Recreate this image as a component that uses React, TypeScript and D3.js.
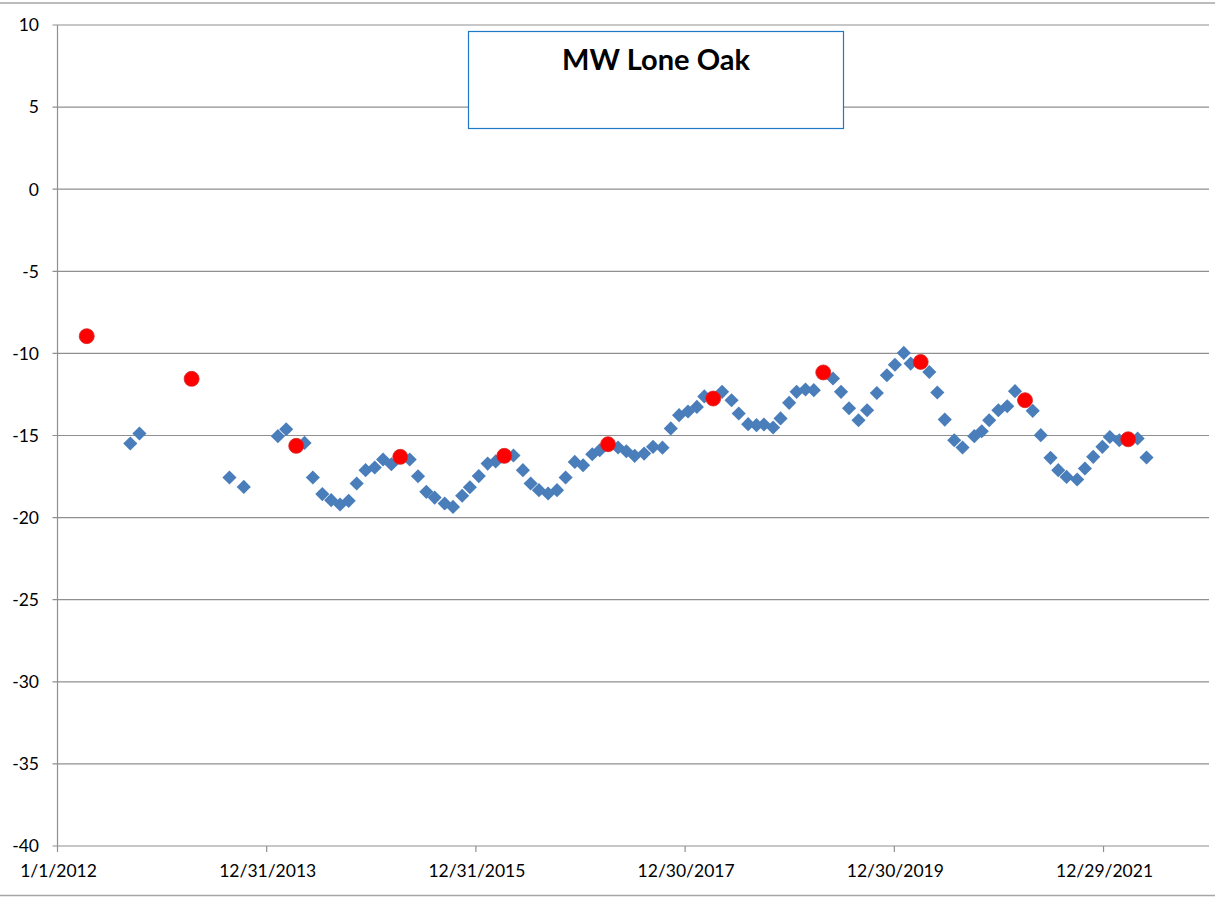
import React from 'react';
import * as d3 from 'd3';

// monthly readings (blue diamonds)
const blueDates = [
  '2012-09-11', '2012-10-13', '2013-08-23', '2013-10-12', '2014-02-08', '2014-03-09',
  '2014-05-12', '2014-06-10', '2014-07-13', '2014-08-13', '2014-09-13', '2014-10-13',
  '2014-11-10', '2014-12-11', '2015-01-12', '2015-02-10', '2015-03-11', '2015-05-14',
  '2015-06-12', '2015-07-11', '2015-08-09', '2015-09-13', '2015-10-12', '2015-11-13',
  '2015-12-10', '2016-01-10', '2016-02-10', '2016-03-09', '2016-05-10', '2016-06-12',
  '2016-07-09', '2016-08-07', '2016-09-08', '2016-10-09', '2016-11-08', '2016-12-10',
  '2017-01-08', '2017-02-09', '2017-03-07', '2017-05-10', '2017-06-08', '2017-07-07',
  '2017-08-09', '2017-09-09', '2017-10-12', '2017-11-10', '2017-12-09', '2018-01-09',
  '2018-02-09', '2018-03-07', '2018-05-08', '2018-06-10', '2018-07-05', '2018-08-07',
  '2018-09-05', '2018-10-01', '2018-11-02', '2018-11-28', '2018-12-28', '2019-01-23',
  '2019-02-23', '2019-03-24', '2019-05-30', '2019-06-27', '2019-07-25', '2019-08-27',
  '2019-09-26', '2019-10-30', '2019-12-04', '2020-01-01', '2020-02-01', '2020-02-25',
  '2020-04-30', '2020-05-28', '2020-06-23', '2020-07-26', '2020-08-24', '2020-10-04',
  '2020-10-30', '2020-11-25', '2020-12-27', '2021-01-27', '2021-02-23', '2021-04-26',
  '2021-05-24', '2021-06-27', '2021-07-24', '2021-08-22', '2021-09-28', '2021-10-25',
  '2021-11-23', '2021-12-25', '2022-01-20', '2022-02-22', '2022-04-27', '2022-05-28',
];
const blueValues = [
  -15.49, -14.88, -17.56, -18.13, -15.04, -14.62,
  -15.45, -17.56, -18.57, -18.94, -19.2, -18.98,
  -17.92, -17.11, -16.95, -16.46, -16.75, -16.46,
  -17.48, -18.43, -18.78, -19.14, -19.35, -18.67,
  -18.15, -17.47, -16.71, -16.58, -16.22, -17.11,
  -17.92, -18.33, -18.53, -18.33, -17.56, -16.61,
  -16.81, -16.14, -15.9, -15.73, -15.96, -16.24,
  -16.1, -15.69, -15.74, -14.57, -13.76, -13.54,
  -13.26, -12.62, -12.34, -12.85, -13.66, -14.31,
  -14.37, -14.33, -14.51, -13.96, -13.01, -12.34,
  -12.2, -12.24, -11.53, -12.34, -13.34, -14.07,
  -13.46, -12.41, -11.33, -10.69, -9.97, -10.62,
  -11.13, -12.38, -14.03, -15.29, -15.73, -15.04,
  -14.74, -14.07, -13.46, -13.22, -12.3, -13.5,
  -14.98, -16.36, -17.11, -17.52, -17.68, -17.01,
  -16.3, -15.69, -15.09, -15.29, -15.18, -16.34,
];

// annual readings (red circles)
const redDates = [
  '2012-04-12', '2013-04-13', '2014-04-13', '2015-04-11', '2016-04-08', '2017-04-05',
  '2018-04-07', '2019-04-26', '2020-03-31', '2021-03-30', '2022-03-25',
];
const redValues = [-8.95, -11.55, -15.63, -16.3, -16.24, -15.53, -12.75, -11.16, -10.52, -12.85, -15.23];

const yTicks = [10, 5, 0, -5, -10, -15, -20, -25, -30, -35, -40];
const xTickDates = ['2012-01-01', '2013-12-31', '2015-12-31', '2017-12-30', '2019-12-30', '2021-12-29'];
const xDomain = ['2012-01-01', '2023-01-01'];
const title = 'MW Lone Oak';

const W = 1215;
const H = 898;
const FONT = "Lato, 'Liberation Sans', Arial, sans-serif";

const parse = d3.timeParse('%Y-%m-%d');
const fmt = d3.timeFormat('%-m/%-d/%Y');

export default function App() {
  const x = d3.scaleTime()
    .domain(xDomain.map((d) => parse(d) as Date))
    .range([57.5, 1209]);
  const y = d3.scaleLinear().domain([-40, 10]).range([846, 25]);

  const diamond = d3.symbol(d3.symbolSquare, 100)() as string;
  const blue = blueDates.map((d, i) => ({ date: parse(d) as Date, value: blueValues[i] }));
  const red = redDates.map((d, i) => ({ date: parse(d) as Date, value: redValues[i] }));

  const [x0, x1] = x.range();
  const [yb, yt] = y.range();

  return (
    <svg width={W} height={H} style={{ position: 'absolute', left: 0, top: 0, display: 'block' }}
      fontFamily={FONT}>
      <rect x={0} y={0} width={W} height={H} fill="#fff" />
      {/* chart frame */}
      <line x1={0} x2={W} y1={3} y2={3} stroke="#a6a6a6" strokeWidth={1.5} />
      <line x1={0} x2={W} y1={895.5} y2={895.5} stroke="#a6a6a6" strokeWidth={1.5} />

      {/* gridlines and y axis */}
      {yTicks.map((t) => (
        <g key={t}>
          <line x1={x0 - 5} x2={x1} y1={y(t)} y2={y(t)} stroke="#8f8f8f" strokeWidth={1.2} />
          <text x={39} y={y(t)} dy="0.36em" textAnchor="end" fontSize={17.5} fill="#000">{t}</text>
        </g>
      ))}
      <line x1={x0} x2={x0} y1={yt} y2={yb} stroke="#8f8f8f" strokeWidth={1.2} />

      {/* x axis */}
      {xTickDates.map((d) => {
        const dt = parse(d) as Date;
        return (
          <g key={d}>
            <line x1={x(dt)} x2={x(dt)} y1={yb} y2={yb + 6} stroke="#8f8f8f" strokeWidth={1.2} />
            <text x={x(dt) + 1} y={877} textAnchor="middle" fontSize={17.5} fill="#000">{fmt(dt)}</text>
          </g>
        );
      })}

      {/* title box */}
      <rect x={468.5} y={31.5} width={375} height={97} fill="#fff" stroke="#1f78c8" strokeWidth={1.2} />
      <text x={656} y={69.5} textAnchor="middle" fontSize={29} fontWeight="bold" fill="#000">{title}</text>

      {/* series */}
      {blue.map((d, i) => (
        <path key={'b' + i} d={diamond}
          transform={`translate(${x(d.date)},${y(d.value)}) rotate(45)`}
          fill="#4a7ebb" />
      ))}
      {red.map((d, i) => (
        <circle key={'r' + i} cx={x(d.date)} cy={y(d.value)} r={7.5}
          fill="#ff0000" stroke="#d42a2a" strokeWidth={0.8} />
      ))}
    </svg>
  );
}
